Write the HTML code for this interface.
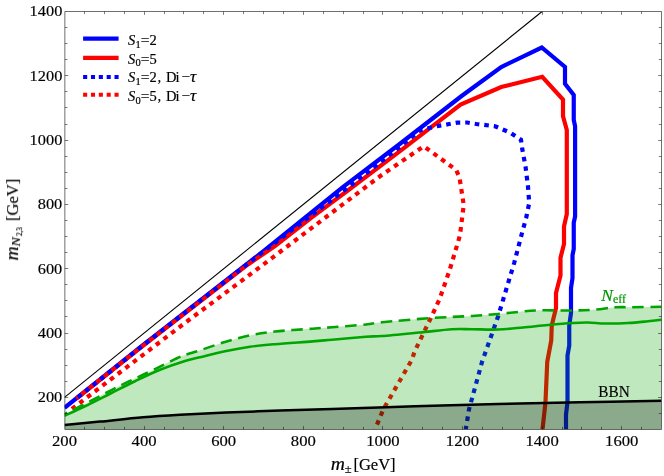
<!DOCTYPE html>
<html><head><meta charset="utf-8"><title>plot</title>
<style>html,body{margin:0;padding:0;background:#fff;}svg{display:block;}text{font-family:"Liberation Serif",serif;fill:#000;}</style>
</head><body>
<svg width="664" height="476" viewBox="0 0 664 476">
<rect x="0" y="0" width="664" height="476" fill="#fff"/>
<defs><clipPath id="c"><rect x="64.50" y="11.50" width="597.00" height="418.00"/></clipPath></defs>
<g clip-path="url(#c)" fill="none" stroke-linejoin="miter">
<path d="M64.50,397.35 L542.10,11.50" stroke="#000" stroke-width="1.1"/>
<path d="M64.50,407.80 L140.00,347.50 L265.00,250.00 L342.50,187.40 L400.00,143.75 L461.25,96.25 L501.25,67.00 L541.75,47.50 L565.00,67.00 L565.00,83.75 L573.75,95.00 L573.75,120.00 L575.10,126.25 L575.10,216.50 L573.75,222.75 L573.75,249.00 L572.50,255.25 L572.50,278.00 L571.00,288.00 L571.00,313.00 L569.25,325.50 L569.25,345.50 L567.50,355.50 L567.50,402.00 L566.00,414.50 L566.00,429.50" stroke="#0000ff" stroke-width="4.2"/>
<path d="M76.40,398.50 L140.00,348.20 L248.00,264.40 L275.00,246.10 L311.50,217.50 L349.50,189.30 L400.00,151.10 L460.60,104.50 L501.25,87.00 L542.25,76.75 L563.00,99.50 L563.00,116.25 L566.80,130.00 L566.80,214.00 L564.00,226.50 L564.00,244.00 L560.50,257.75 L560.50,275.50 L556.00,293.00 L556.00,308.00 L551.75,325.50 L551.25,340.50 L547.25,361.75 L545.50,402.00 L542.50,429.50" stroke="#ff0000" stroke-width="4.2"/>
<path d="M76.40,398.50 L140.00,347.80 L265.00,250.30 L352.00,184.50 L397.50,148.60 L420.20,130.30 L429.00,128.00 L438.50,125.90 L448.00,124.25 L457.40,122.60 L466.90,122.50 L476.30,124.00 L495.00,126.25 L510.00,132.50 L521.00,139.70 L522.25,149.00 L525.50,166.50 L528.00,186.50 L529.20,203.00 L526.25,217.50 L521.75,234.00 L514.25,262.75 L498.00,316.75 L482.00,362.00 L469.00,409.50 L465.75,429.50" stroke="#0000ff" stroke-width="4.2" stroke-dasharray="4.6 5.0" stroke-dashoffset="-1.9"/>
<path d="M71.10,409.50 L185.70,322.40 L255.70,270.30 L362.70,189.30 L380.00,176.25 L423.75,146.25 L456.25,170.00 L459.50,177.50 L463.75,205.00 L460.00,235.00 L457.75,243.00 L449.50,270.50 L439.50,299.25 L432.00,315.50 L414.50,351.75 L412.00,359.50 L383.25,409.50 L375.00,429.50" stroke="#ff0000" stroke-width="4.2" stroke-dasharray="4.6 5.0" stroke-dashoffset="-1.0"/>
<path d="M64.50,414.20 C67.92,412.48 77.08,407.97 85.00,403.90 C92.92,399.83 104.77,393.52 112.00,389.80 C119.23,386.08 123.05,384.18 128.40,381.60 C133.75,379.02 138.75,376.83 144.10,374.30 C149.45,371.77 155.03,369.08 160.50,366.40 C165.97,363.72 172.32,360.27 176.90,358.20 C181.48,356.13 184.15,355.32 188.00,354.00 C191.85,352.68 193.83,352.30 200.00,350.30 C206.17,348.30 216.67,344.48 225.00,342.00 C233.33,339.52 241.67,337.15 250.00,335.40 C258.33,333.65 264.58,332.62 275.00,331.50 C285.42,330.38 303.00,329.42 312.50,328.70 C322.00,327.98 323.08,327.90 332.00,327.20 C340.92,326.50 357.67,325.32 366.00,324.50 C374.33,323.68 371.00,323.33 382.00,322.25 C393.00,321.17 417.00,319.04 432.00,318.00 C447.00,316.96 461.00,316.67 472.00,316.00 C483.00,315.33 487.42,314.92 498.00,314.00 C508.58,313.08 523.42,311.08 535.50,310.50 C547.58,309.92 560.92,310.62 570.50,310.50 C580.08,310.38 585.50,310.29 593.00,309.75 C600.50,309.21 609.25,307.67 615.50,307.25 C621.75,306.83 622.83,307.33 630.50,307.25 C638.17,307.17 656.33,306.83 661.50,306.75 L661.50,429.50 L64.50,429.50 Z" fill="rgb(0,165,0)" fill-opacity="0.25" stroke="none"/>
<path d="M64.50,415.80 C67.92,414.21 77.42,409.93 85.00,406.25 C92.58,402.57 101.67,397.92 110.00,393.75 C118.33,389.58 126.67,385.24 135.00,381.25 C143.33,377.26 151.67,373.18 160.00,369.80 C168.33,366.43 178.33,363.08 185.00,361.00 C191.67,358.92 193.33,358.92 200.00,357.30 C206.67,355.68 216.67,353.05 225.00,351.30 C233.33,349.55 241.67,347.98 250.00,346.80 C258.33,345.62 264.58,345.10 275.00,344.20 C285.42,343.30 303.00,342.15 312.50,341.40 C322.00,340.65 323.08,340.47 332.00,339.70 C340.92,338.93 357.67,337.37 366.00,336.75 C374.33,336.13 373.08,336.71 382.00,336.00 C390.92,335.29 407.83,333.62 419.50,332.50 C431.17,331.38 443.25,329.79 452.00,329.25 C460.75,328.71 464.33,329.21 472.00,329.25 C479.67,329.29 489.50,329.79 498.00,329.50 C506.50,329.21 514.67,328.25 523.00,327.50 C531.33,326.75 539.67,325.75 548.00,325.00 C556.33,324.25 566.33,323.42 573.00,323.00 C579.67,322.58 582.58,322.42 588.00,322.50 C593.42,322.58 598.83,323.42 605.50,323.50 C612.17,323.58 620.92,323.38 628.00,323.00 C635.08,322.62 642.42,321.79 648.00,321.25 C653.58,320.71 659.25,320.00 661.50,319.75" stroke="rgb(0,165,0)" stroke-width="2.6"/>
<path d="M64.50,414.20 C67.92,412.48 77.08,407.97 85.00,403.90 C92.92,399.83 104.77,393.52 112.00,389.80 C119.23,386.08 123.05,384.18 128.40,381.60 C133.75,379.02 138.75,376.83 144.10,374.30 C149.45,371.77 155.03,369.08 160.50,366.40 C165.97,363.72 172.32,360.27 176.90,358.20 C181.48,356.13 184.15,355.32 188.00,354.00 C191.85,352.68 193.83,352.30 200.00,350.30 C206.17,348.30 216.67,344.48 225.00,342.00 C233.33,339.52 241.67,337.15 250.00,335.40 C258.33,333.65 264.58,332.62 275.00,331.50 C285.42,330.38 303.00,329.42 312.50,328.70 C322.00,327.98 323.08,327.90 332.00,327.20 C340.92,326.50 357.67,325.32 366.00,324.50 C374.33,323.68 371.00,323.33 382.00,322.25 C393.00,321.17 417.00,319.04 432.00,318.00 C447.00,316.96 461.00,316.67 472.00,316.00 C483.00,315.33 487.42,314.92 498.00,314.00 C508.58,313.08 523.42,311.08 535.50,310.50 C547.58,309.92 560.92,310.62 570.50,310.50 C580.08,310.38 585.50,310.29 593.00,309.75 C600.50,309.21 609.25,307.67 615.50,307.25 C621.75,306.83 622.83,307.33 630.50,307.25 C638.17,307.17 656.33,306.83 661.50,306.75" stroke="rgb(0,165,0)" stroke-width="2.6" stroke-dasharray="11.4 6.6" stroke-dashoffset="8.1"/>
<path d="M64.50,425.10 C70.42,424.52 86.92,422.90 100.00,421.60 C113.08,420.30 129.67,418.43 143.00,417.30 C156.33,416.17 166.17,415.60 180.00,414.80 C193.83,414.00 209.33,413.20 226.00,412.50 C242.67,411.80 262.33,411.18 280.00,410.60 C297.67,410.02 309.50,409.72 332.00,409.00 C354.50,408.28 387.33,407.13 415.00,406.30 C442.67,405.47 470.50,404.67 498.00,404.00 C525.50,403.33 552.75,402.83 580.00,402.30 C607.25,401.77 647.92,401.05 661.50,400.80 L661.50,429.50 L64.50,429.50 Z" fill="#000" fill-opacity="0.27" stroke="none"/>
<path d="M64.50,425.10 C70.42,424.52 86.92,422.90 100.00,421.60 C113.08,420.30 129.67,418.43 143.00,417.30 C156.33,416.17 166.17,415.60 180.00,414.80 C193.83,414.00 209.33,413.20 226.00,412.50 C242.67,411.80 262.33,411.18 280.00,410.60 C297.67,410.02 309.50,409.72 332.00,409.00 C354.50,408.28 387.33,407.13 415.00,406.30 C442.67,405.47 470.50,404.67 498.00,404.00 C525.50,403.33 552.75,402.83 580.00,402.30 C607.25,401.77 647.92,401.05 661.50,400.80" stroke="#000" stroke-width="2.5"/>
</g>
<g fill="none">
<path d="M64.85,11.5H661.5V429.5H64.85Z" stroke="#222" stroke-width="0.65"/>
<path d="M84.50,429.50v-2.60 M84.50,11.50v2.60 M104.50,429.50v-2.60 M104.50,11.50v2.60 M124.50,429.50v-2.60 M124.50,11.50v2.60 M144.50,429.50v-3.40 M144.50,11.50v3.40 M164.50,429.50v-2.60 M164.50,11.50v2.60 M183.50,429.50v-2.60 M183.50,11.50v2.60 M203.50,429.50v-2.60 M203.50,11.50v2.60 M223.50,429.50v-3.40 M223.50,11.50v3.40 M243.50,429.50v-2.60 M243.50,11.50v2.60 M263.50,429.50v-2.60 M263.50,11.50v2.60 M283.50,429.50v-2.60 M283.50,11.50v2.60 M303.50,429.50v-3.40 M303.50,11.50v3.40 M323.50,429.50v-2.60 M323.50,11.50v2.60 M343.50,429.50v-2.60 M343.50,11.50v2.60 M363.50,429.50v-2.60 M363.50,11.50v2.60 M382.50,429.50v-3.40 M382.50,11.50v3.40 M402.50,429.50v-2.60 M402.50,11.50v2.60 M422.50,429.50v-2.60 M422.50,11.50v2.60 M442.50,429.50v-2.60 M442.50,11.50v2.60 M462.50,429.50v-3.40 M462.50,11.50v3.40 M482.50,429.50v-2.60 M482.50,11.50v2.60 M502.50,429.50v-2.60 M502.50,11.50v2.60 M522.50,429.50v-2.60 M522.50,11.50v2.60 M542.50,429.50v-3.40 M542.50,11.50v3.40 M562.50,429.50v-2.60 M562.50,11.50v2.60 M581.50,429.50v-2.60 M581.50,11.50v2.60 M601.50,429.50v-2.60 M601.50,11.50v2.60 M621.50,429.50v-3.40 M621.50,11.50v3.40 M641.50,429.50v-2.60 M641.50,11.50v2.60 M64.85,413.50h2.60 M661.50,413.50h-2.60 M64.85,397.50h3.40 M661.50,397.50h-3.40 M64.85,381.50h2.60 M661.50,381.50h-2.60 M64.85,365.50h2.60 M661.50,365.50h-2.60 M64.85,349.50h2.60 M661.50,349.50h-2.60 M64.85,333.50h3.40 M661.50,333.50h-3.40 M64.85,316.50h2.60 M661.50,316.50h-2.60 M64.85,300.50h2.60 M661.50,300.50h-2.60 M64.85,284.50h2.60 M661.50,284.50h-2.60 M64.85,268.50h3.40 M661.50,268.50h-3.40 M64.85,252.50h2.60 M661.50,252.50h-2.60 M64.85,236.50h2.60 M661.50,236.50h-2.60 M64.85,220.50h2.60 M661.50,220.50h-2.60 M64.85,204.50h3.40 M661.50,204.50h-3.40 M64.85,188.50h2.60 M661.50,188.50h-2.60 M64.85,172.50h2.60 M661.50,172.50h-2.60 M64.85,156.50h2.60 M661.50,156.50h-2.60 M64.85,140.50h3.40 M661.50,140.50h-3.40 M64.85,124.50h2.60 M661.50,124.50h-2.60 M64.85,107.50h2.60 M661.50,107.50h-2.60 M64.85,91.50h2.60 M661.50,91.50h-2.60 M64.85,75.50h3.40 M661.50,75.50h-3.40 M64.85,59.50h2.60 M661.50,59.50h-2.60 M64.85,43.50h2.60 M661.50,43.50h-2.60 M64.85,27.50h2.60 M661.50,27.50h-2.60" stroke-width="0.55" stroke="#111"/>
</g>
<g opacity="0.999">
<g stroke="#000" stroke-width="0.18">
<text transform="translate(64.50,445.8) scale(1.075,1)" font-size="15.5px" text-anchor="middle">200</text>
<text transform="translate(144.10,445.8) scale(1.075,1)" font-size="15.5px" text-anchor="middle">400</text>
<text transform="translate(223.70,445.8) scale(1.075,1)" font-size="15.5px" text-anchor="middle">600</text>
<text transform="translate(303.30,445.8) scale(1.075,1)" font-size="15.5px" text-anchor="middle">800</text>
<text transform="translate(382.90,445.8) scale(1.075,1)" font-size="15.5px" text-anchor="middle">1000</text>
<text transform="translate(462.50,445.8) scale(1.075,1)" font-size="15.5px" text-anchor="middle">1200</text>
<text transform="translate(542.10,445.8) scale(1.075,1)" font-size="15.5px" text-anchor="middle">1400</text>
<text transform="translate(621.70,445.8) scale(1.075,1)" font-size="15.5px" text-anchor="middle">1600</text>
<text transform="translate(62.3,402.15) scale(1.055,1)" font-size="15.5px" text-anchor="end">200</text>
<text transform="translate(62.3,337.84) scale(1.055,1)" font-size="15.5px" text-anchor="end">400</text>
<text transform="translate(62.3,273.53) scale(1.055,1)" font-size="15.5px" text-anchor="end">600</text>
<text transform="translate(62.3,209.22) scale(1.055,1)" font-size="15.5px" text-anchor="end">800</text>
<text transform="translate(62.3,144.92) scale(1.055,1)" font-size="15.5px" text-anchor="end">1000</text>
<text transform="translate(62.3,80.61) scale(1.055,1)" font-size="15.5px" text-anchor="end">1200</text>
<text transform="translate(62.3,16.30) scale(1.055,1)" font-size="15.5px" text-anchor="end">1400</text>
</g>
<g transform="translate(331.1,470.3)" stroke="#000" stroke-width="0.2"><text transform="scale(1.09,1)" x="-0.3" y="0" font-size="18px" font-style="italic">m</text><text x="13.6" y="3.0" font-size="12.5px">±</text><text transform="translate(22.30,0) scale(0.945,1)" font-size="17.5px">[GeV]</text></g>
<g transform="translate(18.1,260.3) rotate(-90)" stroke="#000" stroke-width="0.2"><text transform="scale(1.09,1)" x="-0.3" y="0" font-size="18px" font-style="italic">m</text><text transform="translate(13.7,2.0) scale(1.22,1)" font-size="11.5px" font-style="italic">N</text><text transform="translate(24.2,3.8) scale(0.85,1)" font-size="8.5px">2,3</text><text transform="translate(39.20,0) scale(0.945,1)" font-size="17.5px">[GeV]</text></g>
<g stroke-width="4.1" fill="none">
<path d="M83.1,38.6H118.6" stroke="#0000ff"/>
<path d="M83.1,57.9H118.6" stroke="#ff0000"/>
<path d="M83.1,77.0H118.6" stroke="#0000ff" stroke-dasharray="4.1 3.75"/>
<path d="M83.1,94.8H118.6" stroke="#ff0000" stroke-dasharray="4.1 3.75"/>
</g>
<text y="45.00" font-size="14.5px" stroke="#000" stroke-width="0.2"><tspan x="127.9" font-style="italic">S</tspan><tspan x="135.6" font-size="10.5px" dy="2.6">1</tspan><tspan x="140.8" dy="-2.6" font-size="15.5px">=</tspan><tspan x="149.4" font-size="14.5px">2</tspan></text>
<text y="63.70" font-size="14.5px" stroke="#000" stroke-width="0.2"><tspan x="127.9" font-style="italic">S</tspan><tspan x="135.6" font-size="10.5px" dy="2.6">0</tspan><tspan x="140.8" dy="-2.6" font-size="15.5px">=</tspan><tspan x="149.4" font-size="14.5px">5</tspan></text>
<text y="82.20" font-size="14.5px" stroke="#000" stroke-width="0.2"><tspan x="127.9" font-style="italic">S</tspan><tspan x="135.6" font-size="10.5px" dy="2.6">1</tspan><tspan x="140.8" dy="-2.6" font-size="15.5px">=</tspan><tspan x="149.4" font-size="14.5px">2</tspan><tspan x="157.4">,</tspan><tspan x="166">D</tspan><tspan x="175.6">i</tspan><tspan x="181.4" font-size="15.5px">−</tspan><tspan x="190" font-size="17.5px" font-style="italic">τ</tspan></text>
<text y="101.40" font-size="14.5px" stroke="#000" stroke-width="0.2"><tspan x="127.9" font-style="italic">S</tspan><tspan x="135.6" font-size="10.5px" dy="2.6">0</tspan><tspan x="140.8" dy="-2.6" font-size="15.5px">=</tspan><tspan x="149.4" font-size="14.5px">5</tspan><tspan x="157.4">,</tspan><tspan x="166">D</tspan><tspan x="175.6">i</tspan><tspan x="181.4" font-size="15.5px">−</tspan><tspan x="190" font-size="17.5px" font-style="italic">τ</tspan></text>
<text y="300.6" font-size="17.5px" style="fill:rgb(0,150,0);stroke:rgb(0,150,0);stroke-width:0.2"><tspan x="601.3" font-style="italic">N</tspan><tspan x="613" font-size="12px" dy="2.6">eff</tspan></text>
<text transform="translate(598.2,396.7) scale(0.93,1)" font-size="16.5px" stroke="#000" stroke-width="0.15">BBN</text>
</g>
</svg>
</body></html>
